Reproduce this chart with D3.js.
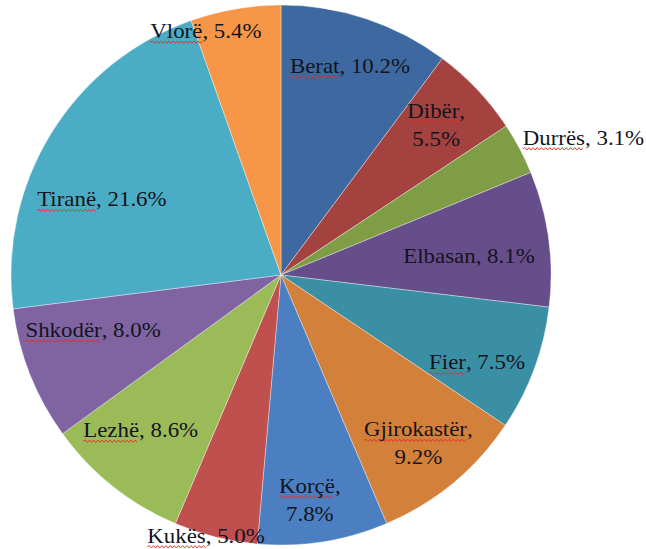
<!DOCTYPE html>
<html>
<head>
<meta charset="utf-8">
<script src="https://cdn.jsdelivr.net/npm/d3@7"></script>
<style>
  html, body { margin: 0; padding: 0; background: #fff; }
  svg { display: block; }
</style>
</head>
<body>
<svg id="chart" width="646" height="549"></svg>
<script>
// ---- data ----
const categories = ["Berat", "Dibër", "Durrës", "Elbasan", "Fier", "Gjirokastër",
                    "Korçë", "Kukës", "Lezhë", "Shkodër", "Tiranë", "Vlorë"];
const values = [10.2, 5.5, 3.1, 8.1, 7.5, 9.2, 7.8, 5.0, 8.6, 8.0, 21.6, 5.4];
const colors = ["#3D69A0", "#A3423F", "#7E9D45", "#664E8A", "#3B8FA5", "#D3803B",
                "#4B7FC1", "#C0504D", "#9BBB59", "#8064A2", "#4BACC6", "#F79646"];
// labels broken onto two lines
const twoLine = ["Dibër", "Gjirokastër", "Korçë"];
// names flagged by the spell checker (wavy underline)
const underlined = ["Berat", "Dibër", "Durrës", "Fier", "Gjirokastër", "Korçë",
                    "Kukës", "Lezhë", "Shkodër", "Tiranë", "Vlorë"];
// label placement: angle shift from slice middle (deg), radius as fraction of pie radius
const labelAngleShift = [-0.1, -0.7, 3.5, 1.9, 3.7, 0.4, 1.7, 2.0, 3.6, 5.3, -8.8, -7.4];
const labelRadius     = [0.815, 0.80, 1.23, 0.70, 0.795, 0.805, 0.84, 1.005, 0.775, 0.725, 0.72, 0.945];

// ---- layout ----
const svg = d3.select("#chart");
const cx = 281, cy = 275, R = 270;
const fontSize = 22;
const g = svg.append("g").attr("transform", `translate(${cx},${cy})`);

const pie = d3.pie().sort(null).value(d => d.value);
const data = categories.map((c, i) => ({ name: c, value: values[i], color: colors[i], i }));
const arcs = pie(data);
const arc = d3.arc().innerRadius(0).outerRadius(R);

g.selectAll("path.slice")
  .data(arcs)
  .enter().append("path")
  .attr("class", "slice")
  .attr("d", arc)
  .attr("fill", d => d.data.color)
  .attr("stroke", "#ffffff")
  .attr("stroke-opacity", 0.6)
  .attr("stroke-width", 0.6);

// labels
const fmt = v => v.toFixed(1) + "%";
const labels = g.selectAll("g.label")
  .data(arcs)
  .enter().append("g")
  .attr("class", "label")
  .attr("transform", d => {
    const i = d.data.i;
    const mid = (d.startAngle + d.endAngle) / 2 + labelAngleShift[i] * Math.PI / 180;
    const r = labelRadius[i] * R;
    const p = d3.arc().innerRadius(r).outerRadius(r).centroid({ startAngle: mid, endAngle: mid });
    return `translate(${p[0]},${p[1]}) scale(1.04,1)`;
  });

labels.each(function(d) {
  const sel = d3.select(this);
  const name = d.data.name;
  const pct = fmt(d.data.value);
  const split = twoLine.includes(name);
  const lineGap = 28;
  const base1 = split ? -lineGap / 2 + 7 : 7;
  const t = sel.append("text")
    .attr("text-anchor", "middle")
    .attr("font-family", "'Liberation Serif', 'Times New Roman', serif")
    .attr("font-size", fontSize)
    .attr("fill", "#141420");
  const l1 = t.append("tspan").attr("x", 0).attr("y", base1);
  l1.append("tspan").attr("class", "nm").text(name);
  l1.append("tspan").text(split ? "," : ", " + pct);
  if (split) {
    t.append("tspan").attr("x", 0).attr("y", base1 + lineGap).text(pct);
  }
  if (underlined.includes(name)) {
    const textEl = t.node();
    const full = textEl.getSubStringLength(0, name.length + (split ? 1 : (", " + pct).length));
    const nameLen = textEl.getSubStringLength(0, name.length);
    const x0 = -full / 2, x1 = x0 + nameLen;
    const yU = base1 + 4;
    const step = 2;
    let dpath = `M${x0},${yU}`;
    let up = true;
    for (let x = x0 + step; x <= x1 + 0.01; x += step) {
      dpath += `L${x},${yU + (up ? -1.2 : 1.2)}`;
      up = !up;
    }
    sel.insert("path", "text")
      .attr("d", dpath)
      .attr("fill", "none")
      .attr("stroke", "#E0302A")
      .attr("stroke-width", 0.9);
  }
});
</script>
</body>
</html>
